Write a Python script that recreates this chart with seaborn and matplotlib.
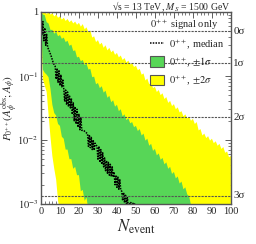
import numpy as np
import matplotlib
matplotlib.use('Agg')
import matplotlib.pyplot as plt
import matplotlib.ticker as mticker
from matplotlib.patches import Patch
from matplotlib.lines import Line2D
import seaborn as sns

# ---------------------------------------------------------------
# Data (log10 of p-value vs number of events)
# ---------------------------------------------------------------
n_full = list(range(0, 101))

# upper edge of the +-2 sigma band, N = 0..100
up2_log = [0.00, -0.02, 0.00, -0.03, -0.01, -0.04, -0.02, -0.07, -0.04, -0.09,
           -0.07, -0.12, -0.09, -0.14, -0.11, -0.16, -0.13, -0.18, -0.15, -0.20,
           -0.17, -0.23, -0.19, -0.27, -0.24, -0.32, -0.29, -0.40, -0.38, -0.47,
           -0.44, -0.51, -0.48, -0.56, -0.52, -0.60, -0.56, -0.63, -0.60, -0.67,
           -0.64, -0.71, -0.68, -0.75, -0.72, -0.79, -0.76, -0.82, -0.80, -0.86,
           -0.84, -0.91, -0.89, -0.98, -0.96, -1.07, -1.04, -1.13, -1.10, -1.19,
           -1.17, -1.25, -1.22, -1.30, -1.27, -1.36, -1.33, -1.42, -1.39, -1.47,
           -1.44, -1.52, -1.49, -1.57, -1.55, -1.63, -1.60, -1.66, -1.64, -1.70,
           -1.67, -1.75, -1.72, -1.85, -1.83, -1.93, -1.90, -1.97, -1.94, -2.01,
           -1.98, -2.05, -2.02, -2.09, -2.06, -2.14, -2.11, -2.20, -2.18, -2.27,
           -2.25]

# lower edge of the +-2 sigma band, N = 0..10 (below axis afterwards)
lo2_log = [0.00, -1.05, -1.15, -1.25, -1.60, -1.95, -2.25, -2.45, -2.62, -2.95, -3.10]

# upper edge of the +-1 sigma band, N = 0..80
up1_log = [0.00, -0.04, -0.05, -0.16, -0.18, -0.28, -0.28, -0.34, -0.31, -0.38,
           -0.36, -0.42, -0.40, -0.47, -0.45, -0.53, -0.51, -0.61, -0.60, -0.71,
           -0.70, -0.77, -0.75, -0.83, -0.81, -0.90, -0.89, -1.02, -1.01, -1.13,
           -1.11, -1.19, -1.16, -1.26, -1.23, -1.34, -1.31, -1.41, -1.38, -1.48,
           -1.45, -1.55, -1.52, -1.63, -1.60, -1.69, -1.66, -1.74, -1.72, -1.80,
           -1.78, -1.86, -1.83, -1.93, -1.90, -2.01, -1.98, -2.09, -2.06, -2.17,
           -2.14, -2.24, -2.21, -2.31, -2.28, -2.38, -2.35, -2.45, -2.42, -2.53,
           -2.50, -2.60, -2.57, -2.68, -2.65, -2.77, -2.74, -2.85, -2.88, -3.02,
           -3.10]

# lower edge of the +-1 sigma band, N = 0..25
lo1_log = [0.00, -0.90, -0.95, -0.98, -1.02, -1.20, -1.45, -1.58, -1.62, -1.75,
           -1.78, -1.95, -1.98, -2.15, -2.15, -2.30, -2.30, -2.45, -2.42, -2.55,
           -2.55, -2.80, -2.78, -2.95, -2.90, -3.10]

# median expectation (jagged because of Poisson discreteness)
med_n = [0, 0.5, 1.0, 1.5, 2.0, 2.5, 3.0, 3.5, 4.5, 5.5, 6.5,
         7.5, 8.0, 8.5, 9.0, 9.5, 10.0, 10.5, 11.0, 11.5,
         12.0, 12.5, 13.0, 13.5, 14.0, 14.5, 15.0, 15.5, 16.0,
         16.5, 17.0, 17.5, 18.0, 18.5, 19.0, 19.5, 20.0, 20.5, 21.0, 21.5,
         22.5, 23.5,
         24.5, 25.0, 25.5, 26.0, 26.5, 27.0, 27.5, 28.0, 28.5,
         29.5, 30.0, 30.5, 31.0, 31.5, 32.0, 32.5, 33.0, 33.5,
         34.0, 34.5, 35.0, 35.5, 36.0, 36.5, 37.0, 37.5, 38.0,
         38.5, 39.0, 39.5, 40.0, 40.5, 41.0, 41.5, 42.0,
         42.5, 43.0, 43.5, 44.0, 44.5, 45.0, 45.5, 46.0,
         47.0, 48.0, 49.0, 50.0, 51.0]
med_log = [-0.03, -0.35, -0.15, -0.45, -0.25, -0.52, -0.35, -0.55, -0.62, -0.70, -0.80,
           -0.85, -1.05, -0.88, -1.10, -0.92, -1.15, -0.98, -1.17, -1.05,
           -1.20, -1.40, -1.22, -1.45, -1.25, -1.48, -1.30, -1.50, -1.35,
           -1.60, -1.42, -1.70, -1.48, -1.75, -1.52, -1.80, -1.60, -1.84, -1.65, -1.85,
           -1.85, -1.88,
           -1.90, -2.10, -1.92, -2.12, -1.96, -2.15, -2.00, -2.16, -2.05,
           -2.10, -2.30, -2.10, -2.35, -2.15, -2.38, -2.20, -2.42, -2.28,
           -2.48, -2.32, -2.52, -2.35, -2.55, -2.38, -2.57, -2.42, -2.58,
           -2.50, -2.70, -2.55, -2.74, -2.58, -2.77, -2.62, -2.78,
           -2.80, -2.95, -2.82, -2.98, -2.85, -3.02, -2.90, -3.05,
           -2.97, -3.00, -2.98, -3.05, -3.20]

sigma_labels = ['0σ', '1σ', '2σ', '3σ']
sigma_pvals = [0.5, 0.1587, 0.02275, 0.00135]

P_FLOOR = 1e-5   # below the visible range

GREEN = '#57d657'
YELLOW = '#ffff00'


def pad_low(vals, n_len):
    p = list(10.0 ** np.array(vals))
    return np.array(p + [P_FLOOR] * (n_len - len(p)))


def main():
    sns.set_theme(style='ticks')
    plt.rcParams['font.family'] = ['Liberation Serif', 'DejaVu Serif']
    plt.rcParams['mathtext.fontset'] = 'stix'
    plt.rcParams['xtick.direction'] = 'in'
    plt.rcParams['ytick.direction'] = 'in'

    fig = plt.figure(figsize=(2.56, 2.44), dpi=100)
    ax = fig.add_axes([0.160, 0.164, 0.742, 0.787])

    n = np.array(n_full)
    up2 = 10.0 ** np.array(up2_log)
    lo2 = pad_low(lo2_log, len(n))
    ax.fill_between(n, lo2, up2, color=YELLOW, linewidth=0)

    n_g = np.arange(len(up1_log))
    up1 = 10.0 ** np.array(up1_log)
    lo1 = pad_low(lo1_log, len(n_g))
    ax.fill_between(n_g, lo1, up1, color=GREEN, linewidth=0)

    # median line
    sns.lineplot(x=med_n, y=10.0 ** np.array(med_log), ax=ax, color='black',
                 linestyle=(0, (1, 0.8)), linewidth=1.1, sort=False,
                 estimator=None)

    # significance reference lines
    for lab, pv in zip(sigma_labels, sigma_pvals):
        ax.axhline(pv, color='#555555', linestyle=(0, (2, 1)), linewidth=0.8)
        ax.text(1.012, pv, lab, transform=ax.get_yaxis_transform(),
                ha='left', va='center', fontsize=8)

    ax.set_yscale('log')
    ax.set_xlim(0, 100)
    ax.set_ylim(1e-3, 1)
    ax.xaxis.set_major_locator(mticker.MultipleLocator(10))
    ax.xaxis.set_minor_locator(mticker.MultipleLocator(2))
    ax.yaxis.set_major_locator(mticker.LogLocator(base=10))
    ax.yaxis.set_minor_locator(mticker.LogLocator(base=10, subs=np.arange(2, 10)))
    ax.yaxis.set_major_formatter(mticker.FuncFormatter(
        lambda v, pos: '1' if abs(v - 1) < 1e-9 else r'$10^{%d}$' % round(np.log10(v))))
    ax.tick_params(which='both', top=True, right=True, labelsize=7.5,
                   color='#444444', pad=2)
    ax.tick_params(which='major', length=4, width=0.6)
    ax.tick_params(which='minor', length=2, width=0.5)
    for sp in ax.spines.values():
        sp.set_color('#555555')
        sp.set_linewidth(1.0)

    ax.set_xlabel(r'$N_{\rm event}$', fontsize=12, labelpad=1)
    ax.set_ylabel(r'$P_{0^{++}}(A_{\phi}^{\rm obs}; A_{\phi})$', fontsize=8)
    ax.yaxis.set_label_coords(-0.115, 0.5)
    ax.text(1.0, 1.008, r'√s = 13 TeV, $M_{S}$ = 1500 GeV', transform=ax.transAxes,
            ha='right', va='baseline', fontsize=7)

    handles = [Line2D([], [], color='black', linestyle=(0, (1, 0.8)), linewidth=1.1),
               Patch(facecolor=GREEN, edgecolor='#555555', linewidth=0.8),
               Patch(facecolor=YELLOW, edgecolor='#555555', linewidth=0.8)]
    labels = [r'$0^{++}$, median', r'$0^{++}$, $\pm1\sigma$', r'$0^{++}$, $\pm2\sigma$']
    leg = ax.legend(handles, labels, loc='upper right', bbox_to_anchor=(1.0, 1.0),
                    frameon=False, fontsize=7.5, title=r'$0^{++}$ signal only',
                    title_fontsize=7.5, handlelength=1.3, handleheight=1.2,
                    labelspacing=0.45, handletextpad=0.5, borderaxespad=0.2)
    leg._legend_box.align = 'left'

    fig.savefig('out.png', dpi=100)
    plt.close(fig)


if __name__ == '__main__':
    main()
